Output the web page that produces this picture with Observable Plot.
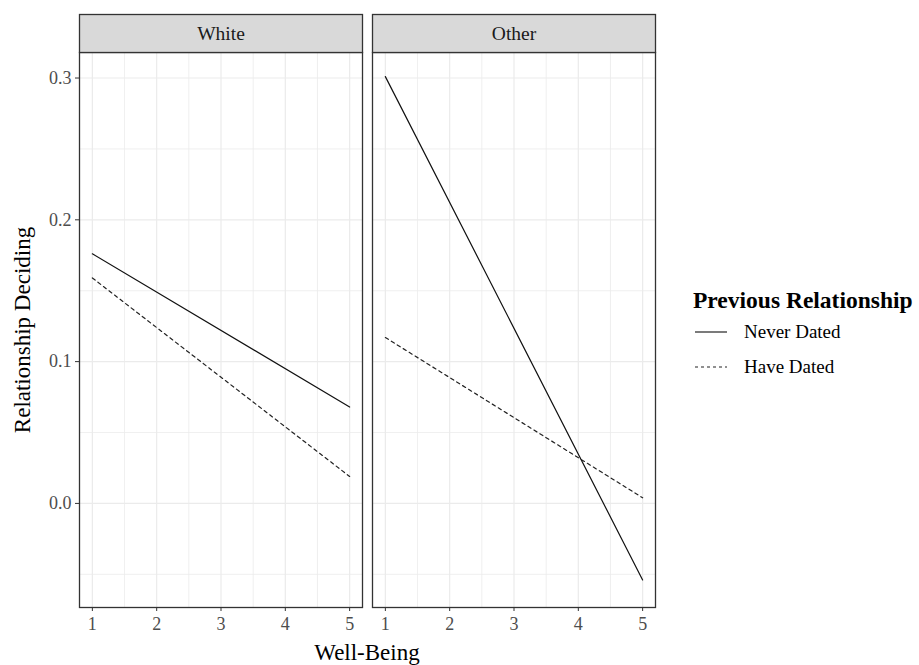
<!DOCTYPE html>
<html>
<head>
<meta charset="utf-8">
<script src="https://cdn.jsdelivr.net/npm/d3@7"></script>
<script src="https://cdn.jsdelivr.net/npm/@observablehq/plot@0.6"></script>
<style>
  body { margin: 0; background: #fff; }
  #wrap { position: relative; width: 919px; height: 665px; font-family: "Liberation Serif", "DejaVu Serif", serif; }
  #chart { position: absolute; left: 0; top: 0; }
  .title { position: absolute; white-space: nowrap; color: #000; font-size: 23px; line-height: 1; }
  .leg { position: absolute; white-space: nowrap; color: #000; line-height: 1; }
</style>
</head>
<body>
<div id="wrap">
  <div id="chart"></div>
</div>
<script>
const panels = ["White", "Other"];
const statuses = ["Never Dated", "Have Dated"];
const wellBeing = [1, 5];
const whiteNever = [0.176, 0.068];
const whiteHave = [0.159, 0.019];
const otherNever = [0.301, -0.054];
const otherHave = [0.117, 0.004];
const xTicks = [1, 2, 3, 4, 5];
const xMinor = [1.5, 2.5, 3.5, 4.5];
const yTicks = [0, 0.1, 0.2, 0.3];
const yMinor = [-0.05, 0.05, 0.15, 0.25];

const series = [
  {panel: "White", status: "Never Dated", values: whiteNever},
  {panel: "White", status: "Have Dated", values: whiteHave},
  {panel: "Other", status: "Never Dated", values: otherNever},
  {panel: "Other", status: "Have Dated", values: otherHave}
];
const rows = series.flatMap(s => wellBeing.map((x, i) => ({panel: s.panel, status: s.status, x, y: s.values[i]})));

const plot = Plot.plot({
  width: 919,
  height: 665,
  marginLeft: 78,
  marginRight: 263,
  marginTop: 52,
  marginBottom: 58,
  style: {fontFamily: "Liberation Serif, DejaVu Serif, serif", background: "#fff"},
  fx: {domain: panels, paddingInner: 0.034, paddingOuter: 0, axis: null, label: null},
  x: {domain: [0.8, 5.2], label: null},
  y: {domain: [-0.0734, 0.318], label: null},
  marks: [
    Plot.gridY(yMinor, {stroke: "#EBEBEB", strokeOpacity: 1, strokeWidth: 0.8}),
    Plot.gridX(xMinor, {stroke: "#EBEBEB", strokeOpacity: 1, strokeWidth: 0.8}),
    Plot.gridY(yTicks, {stroke: "#EBEBEB", strokeOpacity: 1, strokeWidth: 1.2}),
    Plot.gridX(xTicks, {stroke: "#EBEBEB", strokeOpacity: 1, strokeWidth: 1.2}),
    Plot.line(rows.filter(d => d.status === statuses[0]), {fx: "panel", x: "x", y: "y", stroke: "#111", strokeWidth: 1.2}),
    Plot.line(rows.filter(d => d.status === statuses[1]), {fx: "panel", x: "x", y: "y", stroke: "#222", strokeWidth: 1.2, strokeDasharray: "3.5,3.5"}),
    Plot.frame({stroke: "#333", strokeWidth: 1.3}),
    Plot.frame({fill: "#D9D9D9", stroke: "#333", strokeWidth: 1.3, insetTop: -38, insetBottom: 555}),
    Plot.text(panels, {fx: d => d, text: d => d, frameAnchor: "top", lineAnchor: "middle", dy: -19, fontSize: 19.5, fill: "#1A1A1A"}),
    Plot.axisX(xTicks, {tickSize: 4, tickPadding: 6, fontSize: 18, stroke: "#333", fill: "#4D4D4D", label: null}),
    Plot.axisY(yTicks, {tickSize: 4, tickPadding: 4, fontSize: 18, stroke: "#333", fill: "#4D4D4D", label: null, tickFormat: d3.format(".1f")})
  ]
});
document.getElementById("chart").appendChild(plot);

const wrap = document.getElementById("wrap");
function addDiv(cls, text, css) {
  const el = document.createElement("div");
  el.className = cls;
  el.textContent = text;
  Object.assign(el.style, css);
  wrap.appendChild(el);
  return el;
}
addDiv("title", "Well-Being", {left: "78px", width: "578px", top: "641px", textAlign: "center"});
addDiv("title", "Relationship Deciding", {left: "22px", top: "330px", transform: "translate(-50%,-50%) rotate(-90deg)"});
addDiv("leg", "Previous Relationship", {left: "693px", top: "289px", fontSize: "23.5px", fontWeight: "bold"});
const legendItems = [{label: statuses[0], dash: null, top: 332}, {label: statuses[1], dash: "3,3", top: 367}];
legendItems.forEach(it => {
  const svg = document.createElementNS("http://www.w3.org/2000/svg", "svg");
  svg.setAttribute("width", "34"); svg.setAttribute("height", "4");
  svg.style.position = "absolute"; svg.style.left = "694px"; svg.style.top = (it.top - 2) + "px";
  const ln = document.createElementNS("http://www.w3.org/2000/svg", "line");
  ln.setAttribute("x1", "1"); ln.setAttribute("x2", "33"); ln.setAttribute("y1", "2"); ln.setAttribute("y2", "2");
  ln.setAttribute("stroke", "#222"); ln.setAttribute("stroke-width", "1.2");
  if (it.dash) ln.setAttribute("stroke-dasharray", it.dash);
  svg.appendChild(ln);
  wrap.appendChild(svg);
  addDiv("leg", it.label, {left: "744px", top: (it.top - 10) + "px", fontSize: "19px"});
});
</script>
</body>
</html>
